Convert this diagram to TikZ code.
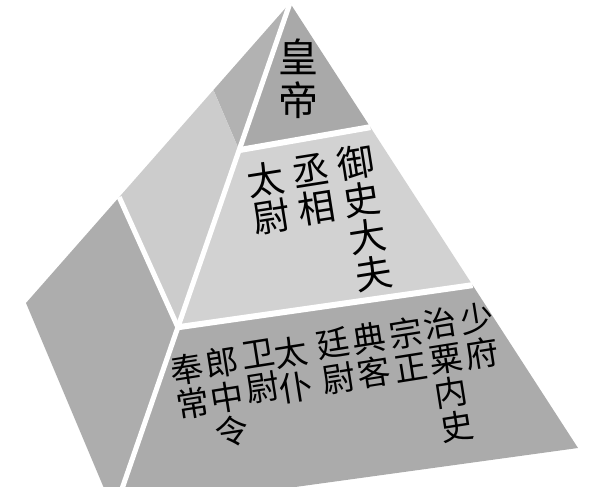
\documentclass[tikz,border=0pt]{standalone}
\usepackage{fontspec}
\usepackage{tikz}
\usetikzlibrary{calc}
\newfontfamily\cjk{Noto Sans CJK SC}
\definecolor{facetop}{HTML}{A9A9A9}
\definecolor{facemid}{HTML}{D2D2D2}
\definecolor{facelow}{HTML}{ABABAB}
\definecolor{sidetop}{HTML}{B2B2B2}
\definecolor{sidemid}{HTML}{CCCCCC}
\definecolor{sidelow}{HTML}{ADADAD}
\tikzset{
	gap/.style={white,line width=4.5pt},
	rank/.style={align=center,inner sep=0pt,rotate=9},
	emperor/.style={align=center,inner sep=0pt,font={\cjk\fontsize{30}{32}\selectfont}},
	minister/.style={rank,font={\cjk\fontsize{28}{28}\selectfont}},
	official/.style={rank,font={\cjk\fontsize{25}{26}\selectfont}}
}

\begin{document}
\begin{tikzpicture}[x=0.75pt,y=-0.75pt]
	
	\useasboundingbox (0,0) rectangle (600,486);
	\clip (0,0) rectangle (600,486);
	
	\coordinate (apex) at (290,3);
	\coordinate (left) at (26,303);
	\coordinate (base) at (114,512);
	\coordinate (right) at (578,448);
	
	\coordinate (ridge1) at ($ (apex)!0.289!(base) $);
	\coordinate (ridge2) at ($ (apex)!0.637!(base) $);
	\coordinate (rgt1) at ($ (apex)!0.279!(right) $);
	\coordinate (rgt2) at ($ (apex)!0.634!(right) $);
	\coordinate (lft1) at ($ (apex)!0.29!(left) $);
	\coordinate (lft2) at ($ (apex)!0.647!(left) $);
	
	\fill[sidetop] (apex) -- (lft1) -- (ridge1) -- cycle;
	\fill[sidemid] (lft1) -- (lft2) -- (ridge2) -- (ridge1) -- cycle;
	\fill[sidelow] (lft2) -- (left) -- (base) -- (ridge2) -- cycle;
	
	\fill[facetop] (apex) -- (ridge1) -- (rgt1) -- cycle;
	\fill[facemid] (ridge1) -- (ridge2) -- (rgt2) -- (rgt1) -- cycle;
	\fill[facelow] (ridge2) -- (base) -- (right) -- (rgt2) -- cycle;
	
	\draw[gap,line width=3.8pt] (apex) -- (base);
	\draw[gap] (ridge1) -- (rgt1);
	\draw[gap] (ridge2) -- (rgt2);
	\draw[gap,line width=3.8pt] (lft2) -- (ridge2);
	
	\node[emperor] (huangdi) at (298,79) {皇\\帝};
	
	\node[minister] (taiwei) at (268.5,198.5) {太\\尉};
	\node[minister] (chengxiang) at (313.5,190) {丞\\相};
	\node[minister] (yushi) at (364.5,218) {御\\史\\大\\夫};
	
	\node[official] (fengchang) at (190,386.5) {奉\\常};
	\node[official] (langzhong) at (227,397) {郎\\中\\令};
	\node[official] (weiwei) at (260.5,371.5) {卫\\尉};
	\node[official] (taipu) at (293.5,370) {太\\仆};
	\node[official] (tingwei) at (336,361) {廷\\尉};
	\node[official] (dianke) at (371.5,355) {典\\客};
	\node[official] (zongzheng) at (408.5,349.5) {宗\\正};
	\node[official] (zhisu) at (448.5,375) {治\\粟\\内\\史};
	\node[official] (shaofu) at (479.5,336) {少\\府};
	
\end{tikzpicture}
\end{document}
